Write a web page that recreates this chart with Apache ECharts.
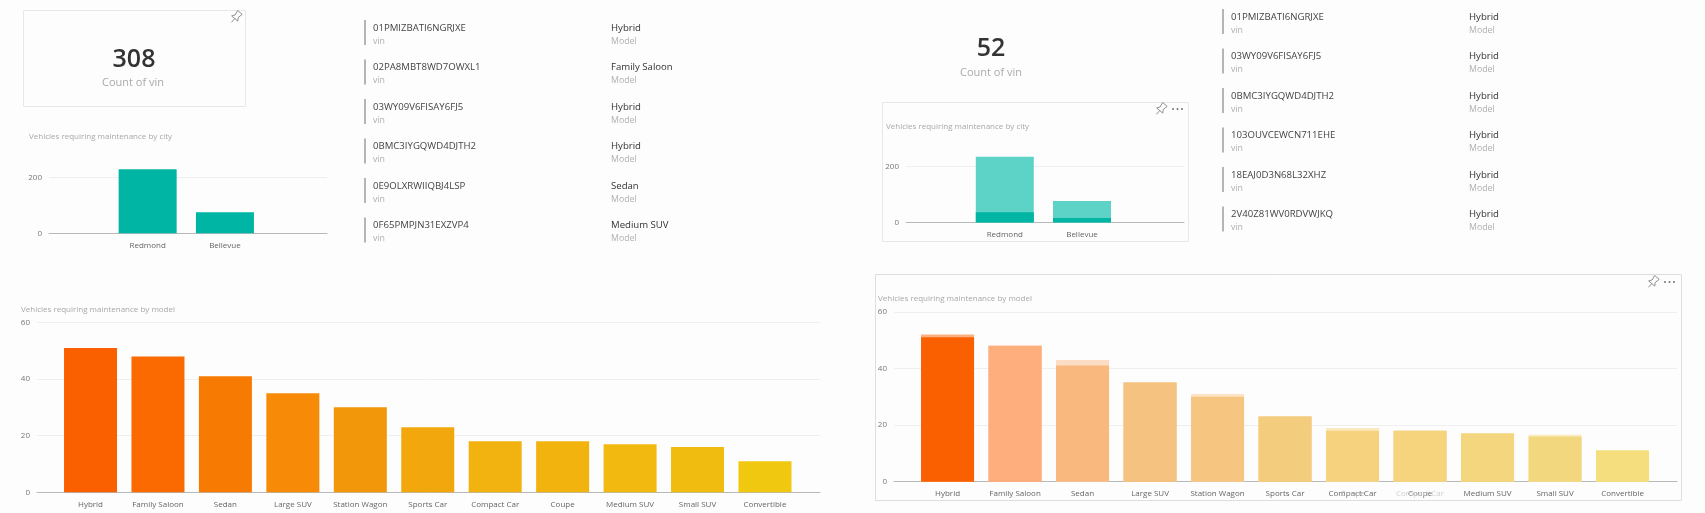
<!DOCTYPE html>
<html lang="en">
  <head>
    <meta charset="UTF-8" />
    <title>Vehicles requiring maintenance</title>
    <script src="https://cdn.jsdelivr.net/npm/echarts@6/dist/echarts.min.js"></script>
    <style>
      * {
        margin: 0;
        padding: 0;
      }
      html,
      body {
        background: #fdfdfd;
        overflow: hidden;
      }
    </style>
  </head>
  <body>
    <div id="charts" style="width: 1705px; height: 513px"></div>
    <script>
      var myEcharts = echarts.init(document.getElementById("charts"));
      var font = "Open Sans";

      var cities = ["Redmond", "Bellevue"];
      var models = ["Hybrid", "Family Saloon", "Sedan", "Large SUV", "Station Wagon", "Sports Car", "Compact Car", "Coupe", "Medium SUV", "Small SUV", "Convertible"];

      // left dashboard = all vehicles, right dashboard = Hybrid highlighted
      var cityAll = [229, 75];
      var cityTotal = [234, 77];
      var cityPart = [37, 16];
      var modelAll = [51, 48, 41, 35, 30, 23, 18, 18, 17, 16, 11];
      var modelTotal = [52, 48, 43, 35, 31, 23, 19, 18, 17, 16.6, 11];
      var modelColors = ["#fb6000", "#fa6a00", "#f77b02", "#f78a06", "#f2960a", "#f2a80c", "#f2b20f", "#f2b30f", "#f2ba11", "#f1bc10", "#efc80f"];
      var modelLight = ["#fb6000", "#feae7c", "#f8b87e", "#f6c27f", "#f6c580", "#f4cc7d", "#f6d27e", "#f6d47e", "#f4d67e", "#f3d77f", "#f4de7e"];
      var modelTop = ["#fbaf80", "#feae7c", "#fddcc4", "#f6c27f", "#fde2c4", "#f4cc7d", "#fbe9be", "#f6d47e", "#f4d67e", "#fbeabf", "#f4de7e"];

      var leftRows = [
        ["01PMIZBATI6NGRJXE", "Hybrid"],
        ["02PA8MBT8WD7OWXL1", "Family Saloon"],
        ["03WY09V6FISAY6FJ5", "Hybrid"],
        ["0BMC3IYGQWD4DJTH2", "Hybrid"],
        ["0E9OLXRWIIQBJ4LSP", "Sedan"],
        ["0F65PMPJN31EXZVP4", "Medium SUV"],
      ];
      var rightRows = [
        ["01PMIZBATI6NGRJXE", "Hybrid"],
        ["03WY09V6FISAY6FJ5", "Hybrid"],
        ["0BMC3IYGQWD4DJTH2", "Hybrid"],
        ["103OUVCEWCN711EHE", "Hybrid"],
        ["18EAJ0D3N68L32XHZ", "Hybrid"],
        ["2V40Z81WV0RDVWJKQ", "Hybrid"],
      ];

      var grid = [];
      var xAxis = [];
      var yAxis = [];
      var series = [];
      var graphic = [];

      // outer grid carries the long axis line and gridlines, inner grid the bars
      function panel(p) {
        var n = grid.length;
        var box = { top: p.top, height: p.bottom - p.top };
        grid.push(Object.assign({ left: p.x0, width: p.x1 - p.x0 }, box));
        grid.push(Object.assign({ left: p.in0, width: p.in1 - p.in0 }, box));
        xAxis.push({
          gridIndex: n,
          type: "value",
          min: 0,
          max: 1,
          splitLine: { show: false },
          axisTick: { show: false },
          axisLabel: { show: false },
          axisLine: { lineStyle: { color: "#b9b9b9", width: 1 } },
        });
        yAxis.push({
          gridIndex: n,
          type: "value",
          min: 0,
          max: p.max,
          interval: p.interval,
          axisLabel: { color: "#777", fontSize: 8, fontFamily: font, margin: 7, padding: [2, 0, 0, 0] },
          axisLine: { show: false },
          axisTick: { show: false },
          splitLine: { lineStyle: { color: "#efefef", width: 1 } },
        });
        xAxis.push({
          gridIndex: n + 1,
          type: "category",
          data: p.names,
          axisLine: { show: false },
          axisTick: { show: false },
          axisLabel: { color: "#666", fontSize: 8, fontFamily: font, margin: 8, interval: 0 },
        });
        yAxis.push({ gridIndex: n + 1, type: "value", min: 0, max: p.max, interval: p.interval, show: false });
        p.layers.forEach(function (layer, i) {
          series.push({
            type: "bar",
            xAxisIndex: n + 1,
            yAxisIndex: n + 1,
            data: layer.values.map(function (v, j) {
              return { value: v, itemStyle: { color: Array.isArray(layer.color) ? layer.color[j] : layer.color } };
            }),
            barWidth: p.barWidth,
            barGap: "-100%",
            clip: false,
            silent: true,
            z: 2 + i,
          });
        });
      }

      panel({ x0: 49, x1: 327, in0: 109, in1: 263.6, top: 177.3, bottom: 233.3, max: 200, interval: 200, barWidth: 58, names: cities, layers: [{ values: cityAll, color: "#00b5a4" }] });
      panel({ x0: 906, x1: 1184, in0: 966.2, in1: 1120.6, top: 166.3, bottom: 222.6, max: 200, interval: 200, barWidth: 58, names: cities, layers: [{ values: cityTotal, color: "#5dd3c8" }, { values: cityPart, color: "#00b5a4" }] });
      panel({ x0: 37, x1: 820, in0: 56.8, in1: 798.7, top: 322.4, bottom: 492.3, max: 60, interval: 20, barWidth: 53, names: models, layers: [{ values: modelAll, color: modelColors }] });
      panel({ x0: 894, x1: 1677, in0: 913.8, in1: 1656.3, top: 311.8, bottom: 481.7, max: 60, interval: 20, barWidth: 53, names: models, layers: [{ values: modelTotal, color: modelTop }, { values: modelAll, color: modelLight }] });

      function text(x, y, str, size, color, align, weight) {
        graphic.push({
          type: "text",
          x: x,
          y: y + 1,
          silent: true,
          z: 10,
          style: { text: str, fontSize: size, fontFamily: font, fill: color, align: align || "left", verticalAlign: "middle", fontWeight: weight || "normal" },
        });
      }

      function card(x, y, w, h, stroke) {
        graphic.push({
          type: "rect",
          silent: true,
          z: 0,
          shape: { x: x + 0.5, y: y + 0.5, width: w, height: h },
          style: { fill: "none", stroke: stroke || "#e8e8e8", lineWidth: 1 },
        });
      }

      function pin(x, y, dots) {
        var pen = { fill: "none", stroke: "#8c8c8c", lineWidth: 0.9 };
        graphic.push({
          type: "polygon",
          silent: true,
          z: 10,
          x: x,
          y: y,
          rotation: -0.7,
          shape: { points: [[-3, -6], [3, -6], [2, -1], [4, 2], [-4, 2], [-2, -1]] },
          style: pen,
        });
        graphic.push({
          type: "line",
          silent: true,
          z: 10,
          x: x,
          y: y,
          rotation: -0.7,
          shape: { x1: 0, y1: 2, x2: 0, y2: 7 },
          style: pen,
        });
        if (dots) {
          [-4.5, 0, 4.5].forEach(function (d) {
            graphic.push({
              type: "circle",
              silent: true,
              z: 10,
              shape: { cx: x + 16.5 + d, cy: y, r: 0.9 },
              style: { fill: "#666" },
            });
          });
        }
      }

      function rows(list, barX, firstY) {
        list.forEach(function (row, i) {
          var y = firstY + i * 39.5;
          graphic.push({
            type: "rect",
            silent: true,
            shape: { x: barX, y: y - 7, width: 2, height: 25 },
            style: { fill: "#b5b5b5" },
          });
          text(barX + 9, y, row[0], 9.6, "#444");
          text(barX + 9, y + 13, "vin", 8.8, "#b0b0b0");
          text(barX + 247, y, row[1], 9.6, "#333");
          text(barX + 247, y + 13, "Model", 8.8, "#b0b0b0");
        });
      }

      // left dashboard
      card(23, 10, 222, 96);
      pin(236, 17);
      text(134, 59, "308", 25, "#333", "center", 600);
      text(133, 82, "Count of vin", 11, "#aaa", "center");
      text(29, 136, "Vehicles requiring maintenance by city", 8, "#a8a8a8");
      text(21, 309, "Vehicles requiring maintenance by model", 8, "#a8a8a8");
      rows(leftRows, 364, 27);

      // right dashboard
      text(991, 48, "52", 25, "#333", "center", 600);
      text(991, 72, "Count of vin", 11, "#aaa", "center");
      card(882, 102, 306, 139);
      pin(1161, 109, true);
      text(886, 126, "Vehicles requiring maintenance by city", 8, "#a8a8a8");
      card(875, 274, 806, 226, "#dedede");
      pin(1653, 282, true);
      text(878, 298, "Vehicles requiring maintenance by model", 8, "#a8a8a8");
      rows(rightRows, 1222, 16);

      // labels caught mid-transition in the screenshot
      text(1352.5, 492.5, "Coupe", 8, "#b5b5b5", "center");
      text(1420, 492.5, "Compact Car", 8, "#d0d0d0", "center");

      var options = {
        backgroundColor: "#fdfdfd",
        animation: false,
        grid: grid,
        xAxis: xAxis,
        yAxis: yAxis,
        series: series,
        graphic: graphic,
      };
      myEcharts.setOption(options);
    </script>
  </body>
</html>
